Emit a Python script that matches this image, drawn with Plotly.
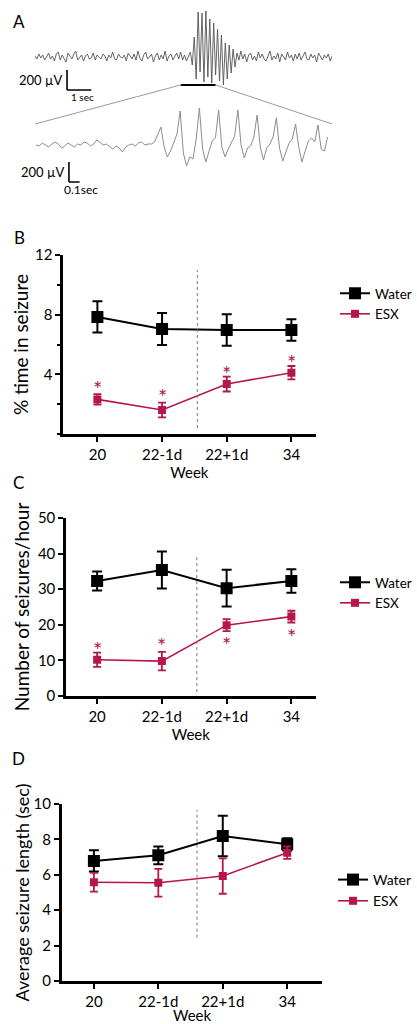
import plotly.graph_objects as go

W, H = 417, 1024
FONT = "Lato"
ESX_COLOR = "#b5174a"

weeks = ["20", "22-1d", "22+1d", "34"]
week_idx = [0, 1, 2, 3]

# Panel B: % time in seizure
b_water = [7.85, 7.04, 6.97, 6.97]
b_water_err = [1.05, 1.07, 1.05, 0.72]
b_esx = [2.32, 1.61, 3.35, 4.11]
b_esx_err = [0.35, 0.49, 0.50, 0.45]
b_star = [3.4, 2.84, 4.4, 5.1]

# Panel C: number of seizures/hour
c_water = [32.3, 35.4, 30.3, 32.3]
c_water_err = [2.7, 5.2, 5.15, 3.3]
c_esx = [10.2, 9.8, 19.9, 22.3]
c_esx_err = [2.0, 2.6, 1.7, 1.65]
c_star = [14.6, 15.5, 15.9, 18.2]

# Panel D: average seizure length (sec)
d_water = [6.78, 7.10, 8.19, 7.72]
d_water_err = [0.60, 0.50, 1.14, 0.35]
d_esx = [5.58, 5.55, 5.93, 7.25]
d_esx_err = [0.53, 0.78, 1.00, 0.35]

# Panel A: EEG traces (microvolts)
eeg_dt = 0.08  # s per sample, full trace
eeg_uv = [
    10, -20, 30, -10, 20, -30, 0, 40, -20, 10,
    -40, 30, 50, -30, 20, -10, -50, 40, 10, -20,
    30, 60, -30, 0, 20, -40, 10, 30, -20, -10,
    40, -30, 20, 0, -20, 30, 10, -40, 20, -10,
    50, -20, -30, 30, 0, -10, 20, -40, 40, 10,
    -20, 30, -30, 60, -10, -40, 20, 50, -20, 0,
    30, -50, 10, 40, -30, 20, -20, 60, -40, 10,
    30, -30, 0, 40, -20, 50, -30, 20, -40, 10,
    50, -80, 200, -220, 450, -150, 440, -250, 460, -200,
    380, -260, 340, -180, 280, -240, 220, -280, 140, -220,
    120, -160, 80, -100, 40,
    -30, 60, -20, 30, -50, 20, 40, -30, 10, -40,
    50, -10, 30, -20, -40, 20, 60, -30, 10, -20,
    40, -50, 30, 0, -30, 50, -10, 20, -40, 30,
    -20, 40, -30, 10, 50, -20, -30, 30, -10, 20,
    -50, 40, 10, -30, 20, -10, 30, -40, 10,
]
zoom_dt = 0.03  # s per sample, expanded trace
zoom_uv = [
    0, -10, 20, 0, -20, 10, 30, 10, -30, -10,
    20, 0, -20, 10, 0, 30, 20, -10, 10, 50,
    20, 0, 10, -20, -40, -10, -30, -70, -20, 0,
    10, -10, 20, 30, 0, 10,
    10, 30, 100, 180, -20, -120, -60, 20, 110, 340,
    -80, -210, -120, -140, 60, 370, -40, -170, -60, 40,
    70, 350, -20, -120, -40, 30, 90, 350, 0, -130,
    -30, -10, 80, 300, -20, -150, -30, 10, 80, 270,
    -30, -160, -60, 20, 60, 210, -20, -170, -60, 40,
    70, 30, 200, -40, -60, 80,
]
eeg_t = [i * eeg_dt for i in range(len(eeg_uv))]
zoom_t = [i * zoom_dt for i in range(len(zoom_uv))]


def px(x):
    return x / W


def py(y):
    return 1 - y / H


fig = go.Figure()

panels = [
    ("x", "y", "legend", b_water, b_water_err, b_esx, b_esx_err),
    ("x2", "y2", "legend2", c_water, c_water_err, c_esx, c_esx_err),
    ("x3", "y3", "legend3", d_water, d_water_err, d_esx, d_esx_err),
]
for xa, ya, lg, wv, we, ev, ee in panels:
    fig.add_trace(go.Scatter(
        x=week_idx, y=wv, name="Water", mode="lines+markers",
        xaxis=xa, yaxis=ya, legend=lg,
        line=dict(color="black", width=2),
        marker=dict(symbol="square", size=12, color="black"),
        error_y=dict(type="data", array=we, color="black", thickness=2, width=5),
    ))
    fig.add_trace(go.Scatter(
        x=week_idx, y=ev, name="ESX", mode="lines+markers",
        xaxis=xa, yaxis=ya, legend=lg,
        line=dict(color=ESX_COLOR, width=1.6),
        marker=dict(symbol="square", size=8, color=ESX_COLOR),
        error_y=dict(type="data", array=ee, color=ESX_COLOR, thickness=1.8, width=4),
    ))

# EEG traces
fig.add_trace(go.Scatter(x=eeg_t, y=eeg_uv, mode="lines", xaxis="x4", yaxis="y4",
                         line=dict(color="#555555", width=0.9), showlegend=False, hoverinfo="skip"))
fig.add_trace(go.Scatter(x=zoom_t, y=zoom_uv, mode="lines", xaxis="x5", yaxis="y5",
                         line=dict(color="#8c8c8c", width=1), showlegend=False, hoverinfo="skip"))


def xstyle(dom, rng, anchor, title_standoff):
    return dict(
        domain=dom, range=rng, anchor=anchor, tickmode="array", tickvals=week_idx,
        ticktext=weeks, showline=True, linewidth=2.5, linecolor="black",
        ticks="outside", ticklen=5, tickwidth=2, tickcolor="black",
        tickfont=dict(family=FONT, size=15, color="black"), showgrid=False,
        zeroline=False, fixedrange=True, automargin=False,
        title=dict(text="Week", font=dict(family=FONT, size=15, color="black"),
                   standoff=title_standoff),
    )


def ystyle(dom, rng, anchor, tickvals, minor_dtick, title, tsize, standoff):
    d = dict(
        domain=dom, range=rng, anchor=anchor, tickmode="array", tickvals=tickvals,
        showline=True, linewidth=2.5, linecolor="black",
        ticks="outside", ticklen=5, tickwidth=2, tickcolor="black",
        tickfont=dict(family=FONT, size=15, color="black"), showgrid=False,
        zeroline=False, fixedrange=True, automargin=False,
        title=dict(text=title, font=dict(family=FONT, size=tsize, color="black"),
                   standoff=standoff),
    )
    if minor_dtick:
        d["minor"] = dict(dtick=minor_dtick, ticks="outside", ticklen=3, tickwidth=1.5,
                          tickcolor="black", showgrid=False)
    return d


hidden = dict(visible=False, showgrid=False, zeroline=False, fixedrange=True)

fig.update_layout(
    width=W, height=H, margin=dict(l=0, r=0, t=0, b=0),
    paper_bgcolor="white", plot_bgcolor="rgba(0,0,0,0)",
    font=dict(family=FONT, color="black"),
    xaxis=xstyle([px(65), px(325)], [-0.53, 3.375], "y", 6),
    yaxis=ystyle([py(434), py(255)], [0, 12], "x", [4, 8, 12], 2,
                 "% time in seizure", 19, 2),
    xaxis2=xstyle([px(68), px(325)], [-0.48, 3.375], "y2", 6),
    yaxis2=ystyle([py(696), py(518)], [0, 50], "x2", [0, 10, 20, 30, 40, 50], None,
                  "Number of seizures/hour", 19, 4),
    xaxis3=xstyle([px(63.5), px(332)], [-0.5, 3.547], "y3", 4),
    yaxis3=ystyle([py(981), py(804)], [0, 10], "x3", [0, 2, 4, 6, 8, 10], None,
                  "Average seizure length (sec)", 18, 0),
    xaxis4=dict(domain=[px(36), px(342)], range=[0, 12.24], anchor="y4", **hidden),
    yaxis4=dict(domain=[py(95), py(5)], range=[-380, 520], anchor="x4", **hidden),
    xaxis5=dict(domain=[px(37), px(340)], range=[0, 2.7545], anchor="y5", **hidden),
    yaxis5=dict(domain=[py(195), py(100)], range=[-500, 450], anchor="x5", **hidden),
    showlegend=True,
)

leg_common = dict(xanchor="left", yanchor="top", bgcolor="rgba(0,0,0,0)",
                  tracegroupgap=0, itemwidth=30)
fig.update_layout(
    legend=dict(x=px(345), y=py(278), font=dict(family=FONT, size=13.5), **leg_common),
    legend2=dict(x=px(345), y=py(567), font=dict(family=FONT, size=13.5), **leg_common),
    legend3=dict(x=px(343), y=py(864), font=dict(family=FONT, size=14), **leg_common),
)

shapes = []
# dotted vertical separators
for xr, yr, xv, y0, y1 in [("x", "y", 1.545, 0.4, 11.0), ("x2", "y2", 1.54, 1.1, 39.7),
                           ("x3", "y3", 1.6, 2.45, 9.66)]:
    shapes.append(dict(type="line", xref=xr, yref=yr, x0=xv, x1=xv, y0=y0, y1=y1,
                       line=dict(color="#7a7a7a", width=1, dash="dot")))
# scale bars, panel A
bar = dict(color="black", width=1.6)
shapes += [
    dict(type="line", xref="x4", yref="y4", x0=1.32, x1=1.32, y0=-130, y1=-330, line=bar),
    dict(type="line", xref="x4", yref="y4", x0=1.32, x1=2.32, y0=-330, y1=-330, line=bar),
    dict(type="line", xref="x4", yref="y4", x0=6.0, x1=7.44, y0=-280, y1=-280,
         line=dict(color="black", width=2)),
    dict(type="line", xref="x5", yref="y5", x0=0.309, x1=0.309, y0=-170, y1=-370, line=bar),
    dict(type="line", xref="x5", yref="y5", x0=0.309, x1=0.409, y0=-370, y1=-370, line=bar),
    dict(type="line", xref="paper", yref="paper", x0=px(186), y0=py(85), x1=px(36), y1=py(124),
         line=dict(color="#9a9a9a", width=1)),
    dict(type="line", xref="paper", yref="paper", x0=px(222), y0=py(85), x1=px(342), y1=py(124),
         line=dict(color="#9a9a9a", width=1)),
]
fig.update_layout(shapes=shapes)

ann = []
for letter, x, y in [("A", 20, 21), ("B", 20, 237), ("C", 19, 482), ("D", 19, 758)]:
    ann.append(dict(text=letter, x=px(x), y=py(y), xref="paper", yref="paper",
                    xanchor="center", yanchor="middle",
                    showarrow=False, font=dict(family=FONT, size=17, color="black")))
ann += [
    dict(text="200 µV", x=px(66), y=py(80), xref="paper", yref="paper", xanchor="right",
         yanchor="middle", showarrow=False, font=dict(family=FONT, size=13)),
    dict(text="1 sec", x=px(71), y=py(97), xref="paper", yref="paper", xanchor="left",
         yanchor="middle", showarrow=False, font=dict(family=FONT, size=10)),
    dict(text="200 µV", x=px(68), y=py(172), xref="paper", yref="paper", xanchor="right",
         yanchor="middle", showarrow=False, font=dict(family=FONT, size=13)),
    dict(text="0.1sec", x=px(64), y=py(189), xref="paper", yref="paper", xanchor="left",
         yanchor="middle", showarrow=False, font=dict(family=FONT, size=12)),
]
for xr, yr, stars in [("x", "y", b_star), ("x2", "y2", c_star)]:
    for i, s in zip(week_idx, stars):
        ann.append(dict(text="*", x=i, y=s, xref=xr, yref=yr, showarrow=False, yshift=-5,
                        font=dict(family=FONT, size=22, color=ESX_COLOR)))
fig.update_layout(annotations=ann)

fig.write_html("out.html", post_script="document.body.style.margin='0';",
               config={"displayModeBar": False})
